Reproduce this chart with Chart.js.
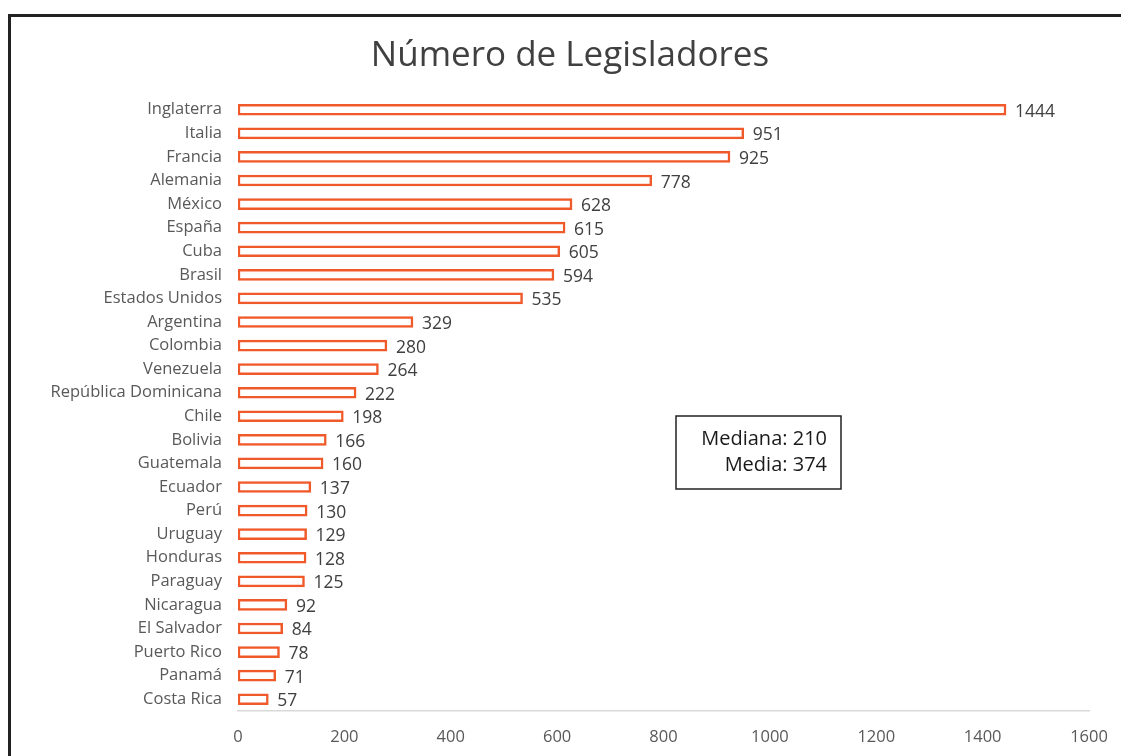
<!DOCTYPE html>
<html>
<head>
<meta charset="utf-8">
<script src="https://cdn.jsdelivr.net/npm/chart.js@4"></script>
<style>
    html, body { margin: 0; padding: 0; background: #fff; overflow: hidden; }
    #wrap { position: relative; width: 1121px; height: 756px; }
    #frame {
        position: absolute; left: 8px; top: 14px; width: 1200px; height: 800px;
        border-top: 3px solid #222; border-left: 3px solid #222;
        pointer-events: none;
    }
    canvas { position: absolute; left: 0; top: 0; }
</style>
</head>
<body>
<div id="wrap">
    <canvas id="myChart" width="1121" height="756"></canvas>
    <div id="frame"></div>
</div>
<script>
// data
const paises = ["Inglaterra", "Italia", "Francia", "Alemania", "México", "España", "Cuba", "Brasil",
    "Estados Unidos", "Argentina", "Colombia", "Venezuela", "República Dominicana", "Chile", "Bolivia",
    "Guatemala", "Ecuador", "Perú", "Uruguay", "Honduras", "Paraguay", "Nicaragua", "El Salvador",
    "Puerto Rico", "Panamá", "Costa Rica"];
const legisladores = [1444, 951, 925, 778, 628, 615, 605, 594, 535, 329, 280, 264, 222, 198, 166,
    160, 137, 130, 129, 128, 125, 92, 84, 78, 71, 57];
const xTicks = [0, 200, 400, 600, 800, 1000, 1200, 1400, 1600];
const titulo = 'Número de Legisladores';

const FONT = "'Open Sans', sans-serif";
const ORANGE = '#f0592a';

// mediana y media from the values
let sorted = legisladores.slice().sort((a, b) => a - b);
let n = sorted.length;
let mediana = n % 2 ? sorted[(n - 1) / 2] : (sorted[n / 2 - 1] + sorted[n / 2]) / 2;
let media = legisladores.reduce((a, b) => a + b, 0) / n;

//Draws the value at the end of each bar
const valueLabels = {
    id: 'valueLabels',
    afterDatasetsDraw(chart) {
        const ctx = chart.ctx;
        const meta = chart.getDatasetMeta(0);
        ctx.save();
        ctx.font = '17.5px ' + FONT;
        ctx.fillStyle = '#404040';
        ctx.textAlign = 'left';
        ctx.textBaseline = 'middle';
        meta.data.forEach((bar, i) => {
            ctx.fillText(legisladores[i], bar.x + 9, bar.y + 2);
        });
        ctx.restore();
    }
};

//Title and the box with mediana / media
const extras = {
    id: 'extras',
    afterDraw(chart) {
        const ctx = chart.ctx;
        ctx.save();
        ctx.font = '35px ' + FONT;
        ctx.fillStyle = '#404040';
        ctx.textAlign = 'center';
        ctx.textBaseline = 'middle';
        ctx.fillText(titulo, 570, 56);

        ctx.strokeStyle = '#222';
        ctx.lineWidth = 1.5;
        ctx.strokeRect(676, 416, 165, 73);
        ctx.font = '20px ' + FONT;
        ctx.fillStyle = '#1a1a1a';
        ctx.textAlign = 'right';
        ctx.fillText('Mediana: ' + Math.round(mediana), 827, 439);
        ctx.fillText('Media: ' + Math.round(media), 827, 465);
        ctx.restore();
    }
};

const config = {
    type: 'bar',
    data: {
        labels: paises,
        datasets: [{
            data: legisladores,
            backgroundColor: '#ffffff',
            borderColor: ORANGE,
            borderWidth: 2.5,
            borderSkipped: false,
            barThickness: 11
        }]
    },
    options: {
        indexAxis: 'y',
        responsive: false,
        animation: false,
        layout: { padding: { left: 0, right: 32, top: 98, bottom: 0 } },
        plugins: {
            legend: { display: false },
            tooltip: { enabled: false },
            title: { display: false }
        },
        scales: {
            x: {
                min: 0,
                max: 1600,
                afterBuildTicks: (s) => { s.ticks = xTicks.map(v => ({ value: v })); },
                grid: { display: false },
                border: { display: true, color: '#d9d9d9', width: 1.5 },
                ticks: {
                    color: '#595959', font: { family: FONT, size: 16.5 }, padding: 8,
                    callback: (v) => String(v)
                },
                afterFit: (s) => { s.height = 45; }
            },
            y: {
                grid: { display: false },
                border: { display: false },
                ticks: { color: '#595959', font: { family: FONT, size: 16.5 }, padding: 8, autoSkip: false },
                afterFit: (s) => { s.width = 238; }
            }
        }
    },
    plugins: [valueLabels, extras]
};

var myChart = new Chart(document.getElementById('myChart'), config);
</script>
</body>
</html>
